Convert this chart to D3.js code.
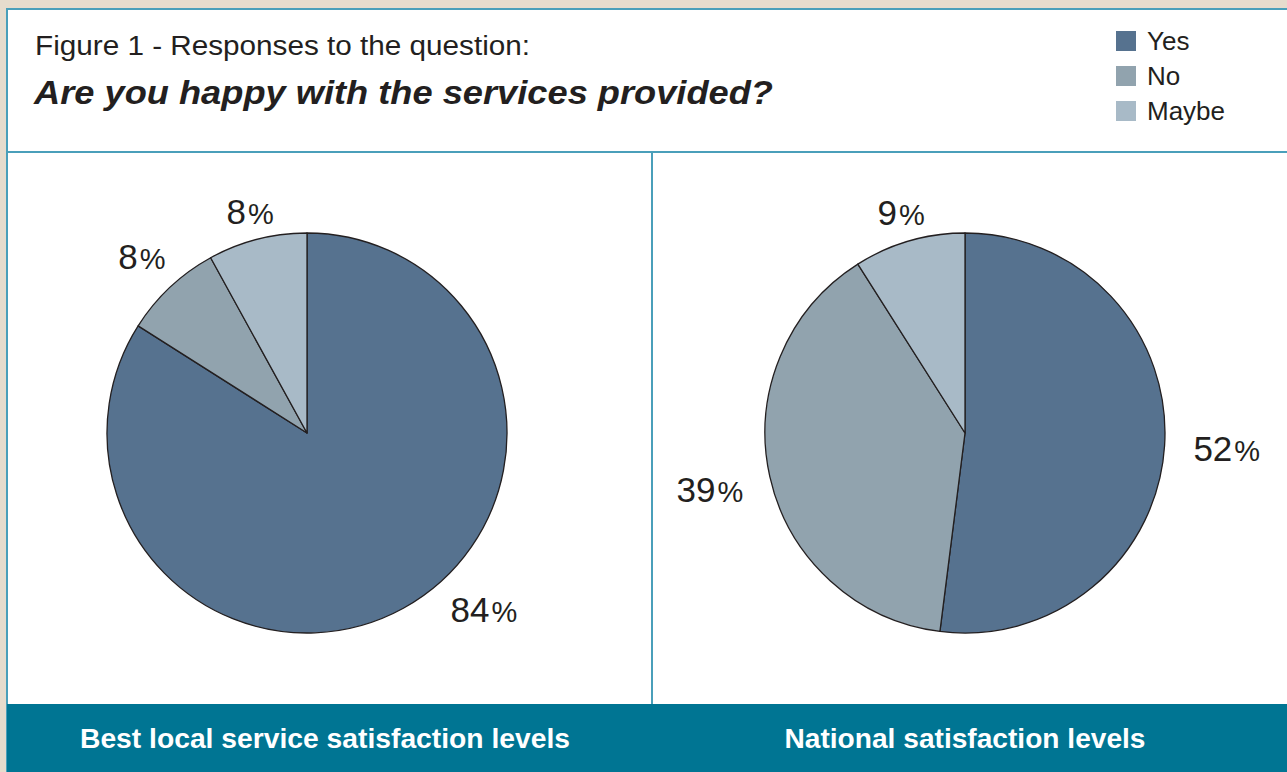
<!DOCTYPE html>
<html>
<head>
<meta charset="utf-8">
<script src="https://cdn.jsdelivr.net/npm/d3@7"></script>
<style>
  body { margin: 0; background: #e6dccd; }
  svg { display: block; font-family: "Liberation Sans", Arial, sans-serif; }
</style>
</head>
<body>
<div id="chart"></div>
<script>
// categories and values
const categories = ["Yes", "No", "Maybe"];
const localValues = [84, 8, 8];
const nationalValues = [52, 39, 9];
const panelTitles = ["Best local service satisfaction levels", "National satisfaction levels"];
const colors = ["#56728f", "#91a3ae", "#a8bac7"];

const width = 1287;
const height = 772;
const teal = "#4a9fba";

const svg = d3.select("#chart").append("svg")
  .attr("width", width)
  .attr("height", height);

// beige page + white frame
svg.append("rect").attr("width", width).attr("height", height).attr("fill", "#e6dccd");
svg.append("rect")
  .attr("x", 7).attr("y", 8)
  .attr("width", width).attr("height", height)
  .attr("fill", "#fff");

// frame lines
svg.append("line").attr("x1", 7).attr("x2", width).attr("y1", 9).attr("y2", 9)
  .attr("stroke", teal).attr("stroke-width", 2);
svg.append("line").attr("x1", 7).attr("x2", 7).attr("y1", 8).attr("y2", height)
  .attr("stroke", teal).attr("stroke-width", 2);
svg.append("line").attr("x1", 7).attr("x2", width).attr("y1", 152).attr("y2", 152)
  .attr("stroke", teal).attr("stroke-width", 2);
svg.append("line").attr("x1", 652).attr("x2", 652).attr("y1", 152).attr("y2", 704)
  .attr("stroke", teal).attr("stroke-width", 2);

// header (the original face is wider than Liberation, so stretch to its width)
svg.append("text")
  .attr("x", 35).attr("y", 55)
  .attr("font-size", 27)
  .attr("fill", "#231f20")
  .attr("textLength", 495)
  .attr("lengthAdjust", "spacingAndGlyphs")
  .text("Figure 1 - Responses to the question:");
svg.append("text")
  .attr("x", 34).attr("y", 104)
  .attr("font-size", 34)
  .attr("font-weight", "bold")
  .attr("font-style", "italic")
  .attr("fill", "#231f20")
  .attr("textLength", 739)
  .attr("lengthAdjust", "spacingAndGlyphs")
  .text("Are you happy with the services provided?");

// legend
const legend = svg.append("g").attr("transform", "translate(1116,31)");
const leg = legend.selectAll("g").data(categories).enter().append("g")
  .attr("transform", (d, i) => `translate(0,${i * 35})`);
leg.append("rect").attr("width", 20).attr("height", 20)
  .attr("fill", (d, i) => colors[i]);
leg.append("text")
  .attr("x", 31).attr("y", 19)
  .attr("font-size", 26)
  .attr("fill", "#231f20")
  .text((d) => d);

// bottom band
svg.append("rect")
  .attr("x", 7).attr("y", 704)
  .attr("width", width).attr("height", height - 704)
  .attr("fill", "#007593");
const titleWidths = [490, 361];
svg.selectAll("text.panel-title").data(panelTitles).enter().append("text")
  .attr("class", "panel-title")
  .attr("x", (d, i) => (i === 0 ? 325 : 965) - titleWidths[i] / 2)
  .attr("y", 748)
  .attr("font-size", 27)
  .attr("font-weight", "bold")
  .attr("fill", "#fff")
  .attr("textLength", (d, i) => titleWidths[i])
  .attr("lengthAdjust", "spacingAndGlyphs")
  .text((d) => d);

// pies
const radius = 200;
const pie = d3.pie().sort(null).value((d) => d);
const arc = d3.arc().innerRadius(0).outerRadius(radius);

function drawPie(values, cx, cy) {
  const g = svg.append("g").attr("transform", `translate(${cx},${cy})`);
  const arcs = pie(values);
  g.selectAll("path").data(arcs).enter().append("path")
    .attr("d", arc)
    .attr("fill", (d, i) => colors[i])
    .attr("stroke", "#231f20")
    .attr("stroke-width", 1.3)
    .attr("stroke-linejoin", "round");

  // labels sit outside the rim; lower labels are kept out of the title band
  const labels = g.selectAll("text").data(arcs).enter().append("text")
    .attr("font-size", 35)
    .attr("fill", "#231f20")
    .attr("text-anchor", "middle");
  labels.append("tspan").text((d) => d.data);
  labels.append("tspan").attr("font-size", 29).attr("dx", 2).text("%");
  labels.each(function (d) {
    const box = this.getBBox();
    let a = (d.startAngle + d.endAngle) / 2;
    if (a > Math.PI * 0.75 && a <= Math.PI) a = Math.PI * 0.75;
    if (a > Math.PI && a < Math.PI * 1.25) a = Math.PI * 1.25;
    const sx = Math.sin(a);
    const cyv = -Math.cos(a);
    const r = radius + 21 + Math.abs(sx) * box.width * 0.62;
    d3.select(this)
      .attr("x", sx * r)
      .attr("y", cyv * r + 12);
  });
}

drawPie(localValues, 307, 433);
drawPie(nationalValues, 965, 433);
</script>
</body>
</html>
